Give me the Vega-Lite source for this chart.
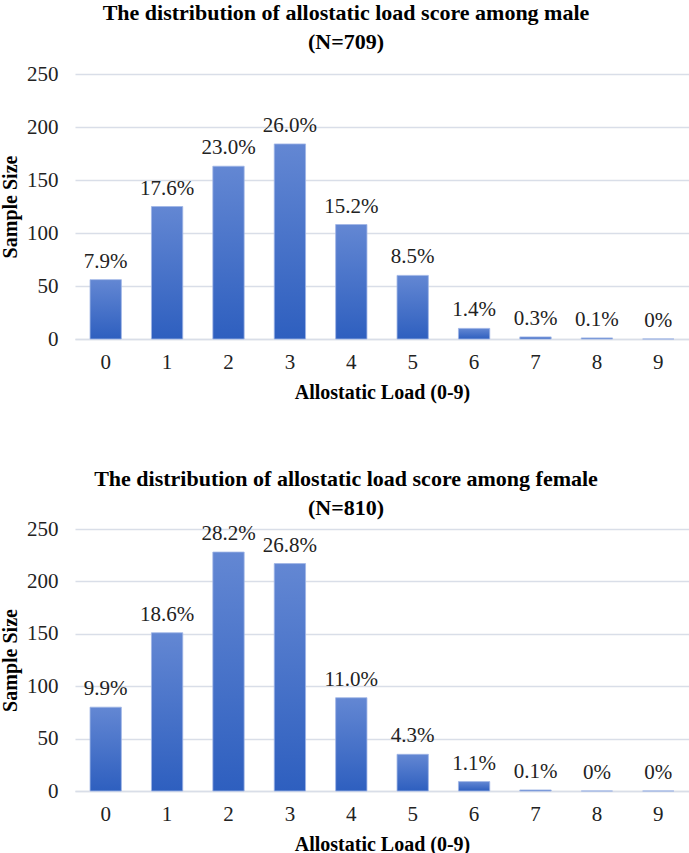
{
  "$schema": "https://vega.github.io/schema/vega-lite/v6.json",
  "padding": {"left": 0, "top": 2, "right": 0, "bottom": 0},
  "background": "white",
  "spacing": 66,
  "config": {
    "view": {"stroke": null},
    "font": "'Liberation Serif', 'Times New Roman', serif",
    "axis": {
      "labelFont": "'Liberation Serif', 'Times New Roman', serif",
      "titleFont": "'Liberation Serif', 'Times New Roman', serif",
      "labelFontSize": 21,
      "titleFontSize": 20,
      "labelColor": "#222222",
      "titleColor": "#000000",
      "titleFontWeight": "bold",
      "gridColor": "#d9dee8",
      "gridWidth": 1.5,
      "ticks": false
    },
    "title": {
      "font": "'Liberation Serif', 'Times New Roman', serif",
      "fontSize": 22,
      "fontWeight": "bold",
      "color": "#000000",
      "anchor": "middle",
      "lineHeight": 29,
      "dx": -36
    },
    "text": {"font": "'Liberation Serif', 'Times New Roman', serif"}
  },
  "vconcat": [
    {
      "title": {"text": ["The distribution of allostatic load score among male", "(N=709)"], "offset": 9},
      "width": 614,
      "height": 265,
      "data": {"values": [
        {"score": "0", "count": 56, "pct": "7.9%"},
        {"score": "1", "count": 125, "pct": "17.6%"},
        {"score": "2", "count": 163, "pct": "23.0%"},
        {"score": "3", "count": 184, "pct": "26.0%"},
        {"score": "4", "count": 108, "pct": "15.2%"},
        {"score": "5", "count": 60, "pct": "8.5%"},
        {"score": "6", "count": 10, "pct": "1.4%"},
        {"score": "7", "count": 2, "pct": "0.3%"},
        {"score": "8", "count": 1, "pct": "0.1%"},
        {"score": "9", "count": 0, "pct": "0%"}
      ]},
      "encoding": {
        "x": {"field": "score", "type": "ordinal", "sort": null,
          "scale": {"paddingInner": 0.49, "paddingOuter": 0.245},
          "axis": {"title": "Allostatic Load (0-9)", "labelAngle": 0, "labelPadding": 12, "titlePadding": 10,
            "domainColor": "#d9dee8", "domainWidth": 1.5, "grid": false}},
        "y": {"field": "count", "type": "quantitative",
          "scale": {"domain": [0, 250]},
          "axis": {"title": "Sample Size", "values": [0, 50, 100, 150, 200, 250], "domain": false, "labelPadding": 17, "titlePadding": 6}}
      },
      "layer": [
        {"mark": {"type": "bar", "color": {"gradient": "linear", "x1": 0, "y1": 0, "x2": 0, "y2": 1,
          "stops": [{"offset": 0, "color": "#6387d3"}, {"offset": 1, "color": "#2e5fbf"}]},
          "stroke": "#9fb5e6", "strokeWidth": 0.8}},
        {"mark": {"type": "text", "baseline": "alphabetic", "dy": -12, "fontSize": 21, "color": "#222222"},
          "encoding": {"text": {"field": "pct"}}}
      ]
    },
    {
      "title": {"text": ["The distribution of allostatic load score among female", "(N=810)"], "offset": -2},
      "width": 614,
      "height": 262,
      "data": {"values": [
        {"score": "0", "count": 80, "pct": "9.9%"},
        {"score": "1", "count": 151, "pct": "18.6%"},
        {"score": "2", "count": 228, "pct": "28.2%"},
        {"score": "3", "count": 217, "pct": "26.8%"},
        {"score": "4", "count": 89, "pct": "11.0%"},
        {"score": "5", "count": 35, "pct": "4.3%"},
        {"score": "6", "count": 9, "pct": "1.1%"},
        {"score": "7", "count": 1, "pct": "0.1%"},
        {"score": "8", "count": 0, "pct": "0%"},
        {"score": "9", "count": 0, "pct": "0%"}
      ]},
      "encoding": {
        "x": {"field": "score", "type": "ordinal", "sort": null,
          "scale": {"paddingInner": 0.49, "paddingOuter": 0.245},
          "axis": {"title": "Allostatic Load (0-9)", "labelAngle": 0, "labelPadding": 12, "titlePadding": 10,
            "domainColor": "#d9dee8", "domainWidth": 1.5, "grid": false}},
        "y": {"field": "count", "type": "quantitative",
          "scale": {"domain": [0, 250]},
          "axis": {"title": "Sample Size", "values": [0, 50, 100, 150, 200, 250], "domain": false, "labelPadding": 17, "titlePadding": 6}}
      },
      "layer": [
        {"mark": {"type": "bar", "color": {"gradient": "linear", "x1": 0, "y1": 0, "x2": 0, "y2": 1,
          "stops": [{"offset": 0, "color": "#6387d3"}, {"offset": 1, "color": "#2e5fbf"}]},
          "stroke": "#9fb5e6", "strokeWidth": 0.8}},
        {"mark": {"type": "text", "baseline": "alphabetic", "dy": -12, "fontSize": 21, "color": "#222222"},
          "encoding": {"text": {"field": "pct"}}}
      ]
    }
  ]
}
